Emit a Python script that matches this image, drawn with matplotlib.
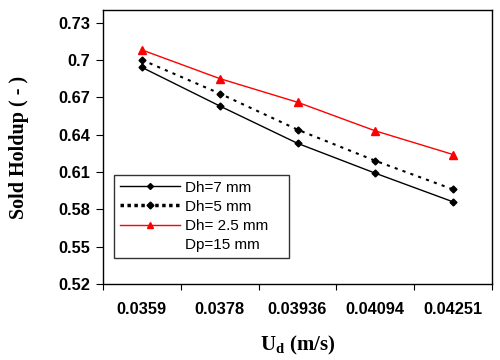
import matplotlib
matplotlib.use("Agg")
import matplotlib.pyplot as plt
from matplotlib.lines import Line2D

# data
velocities = ["0.0359", "0.0378", "0.03936", "0.04094", "0.04251"]
holdup_dh7 = [0.694, 0.663, 0.633, 0.609, 0.586]
holdup_dh5 = [0.700, 0.673, 0.644, 0.619, 0.596]
holdup_dh25 = [0.708, 0.685, 0.666, 0.643, 0.624]
yticks = [0.52, 0.55, 0.58, 0.61, 0.64, 0.67, 0.70, 0.73]
ytick_labels = ["0.52", "0.55", "0.58", "0.61", "0.64", "0.67", "0.7", "0.73"]


def main():
    plt.rcParams['font.family'] = ['Liberation Sans', 'DejaVu Sans']
    fig = plt.figure(figsize=(5, 3.6), dpi=100)
    ax = fig.add_axes([0.206, 0.211, 0.778, 0.761])

    x = list(range(len(velocities)))
    ax.plot(x, holdup_dh7, color='black', lw=1.0, marker='D', ms=3.5)
    ax.plot(x, holdup_dh5, color='black', lw=1.5, ls=(0, (1.5, 2.5)), marker='D', ms=3.5)
    ax.plot(x, holdup_dh25, color='red', lw=1.0, marker='^', ms=5.5)

    ax.set_xlim(-0.5, len(velocities) - 0.5)
    ax.set_ylim(0.52, 0.74)
    ax.set_yticks(yticks)
    ax.set_yticklabels(ytick_labels, fontweight='bold', fontsize=11.8)
    ax.set_xticks([i - 0.5 for i in range(len(velocities) + 1)])
    ax.set_xticklabels([])
    ax.set_xticks(x, minor=True)
    ax.set_xticklabels(velocities, minor=True, fontweight='bold', fontsize=11.8)
    ax.tick_params(axis='x', which='minor', length=0, pad=13)
    ax.tick_params(axis='x', which='major', length=4, direction='out')
    ax.tick_params(axis='y', length=5, direction='out', pad=4)
    for s in ax.spines.values():
        s.set_linewidth(1.0)

    ax.set_ylabel("Sold Holdup ( - )", family='Liberation Serif', fontweight='bold',
                  fontsize=14.5)
    ax.yaxis.set_label_coords(-0.19, 0.5)
    ax.set_xlabel(r"U$_\mathregular{d}$ (m/s)", family='Liberation Serif',
                  fontweight='bold', fontsize=15, labelpad=12)

    handles = [
        Line2D([], [], color='black', lw=1.0, marker='D', ms=3),
        Line2D([], [], color='black', lw=2.5, ls=(0, (1, 1)), marker='D', ms=3.5),
        Line2D([], [], color='red', lw=1.0, marker='^', ms=5),
        Line2D([], [], color='none'),
    ]
    labels = ["Dh=7 mm", "Dh=5 mm", "Dh= 2.5 mm", "Dp=15 mm"]
    leg = ax.legend(handles, labels, loc='lower left',
                    bbox_to_anchor=(0.028, 0.095, 0.45, 0.31), mode='expand',
                    frameon=True, fancybox=False, edgecolor='black', fontsize=11,
                    handlelength=3.9, handletextpad=0.35, borderpad=0.4,
                    labelspacing=0.33, borderaxespad=0)
    leg.get_frame().set_linewidth(1.0)

    fig.savefig("out.png", dpi=100)
    return 0


if __name__ == '__main__':
    import sys
    sys.exit(main())
